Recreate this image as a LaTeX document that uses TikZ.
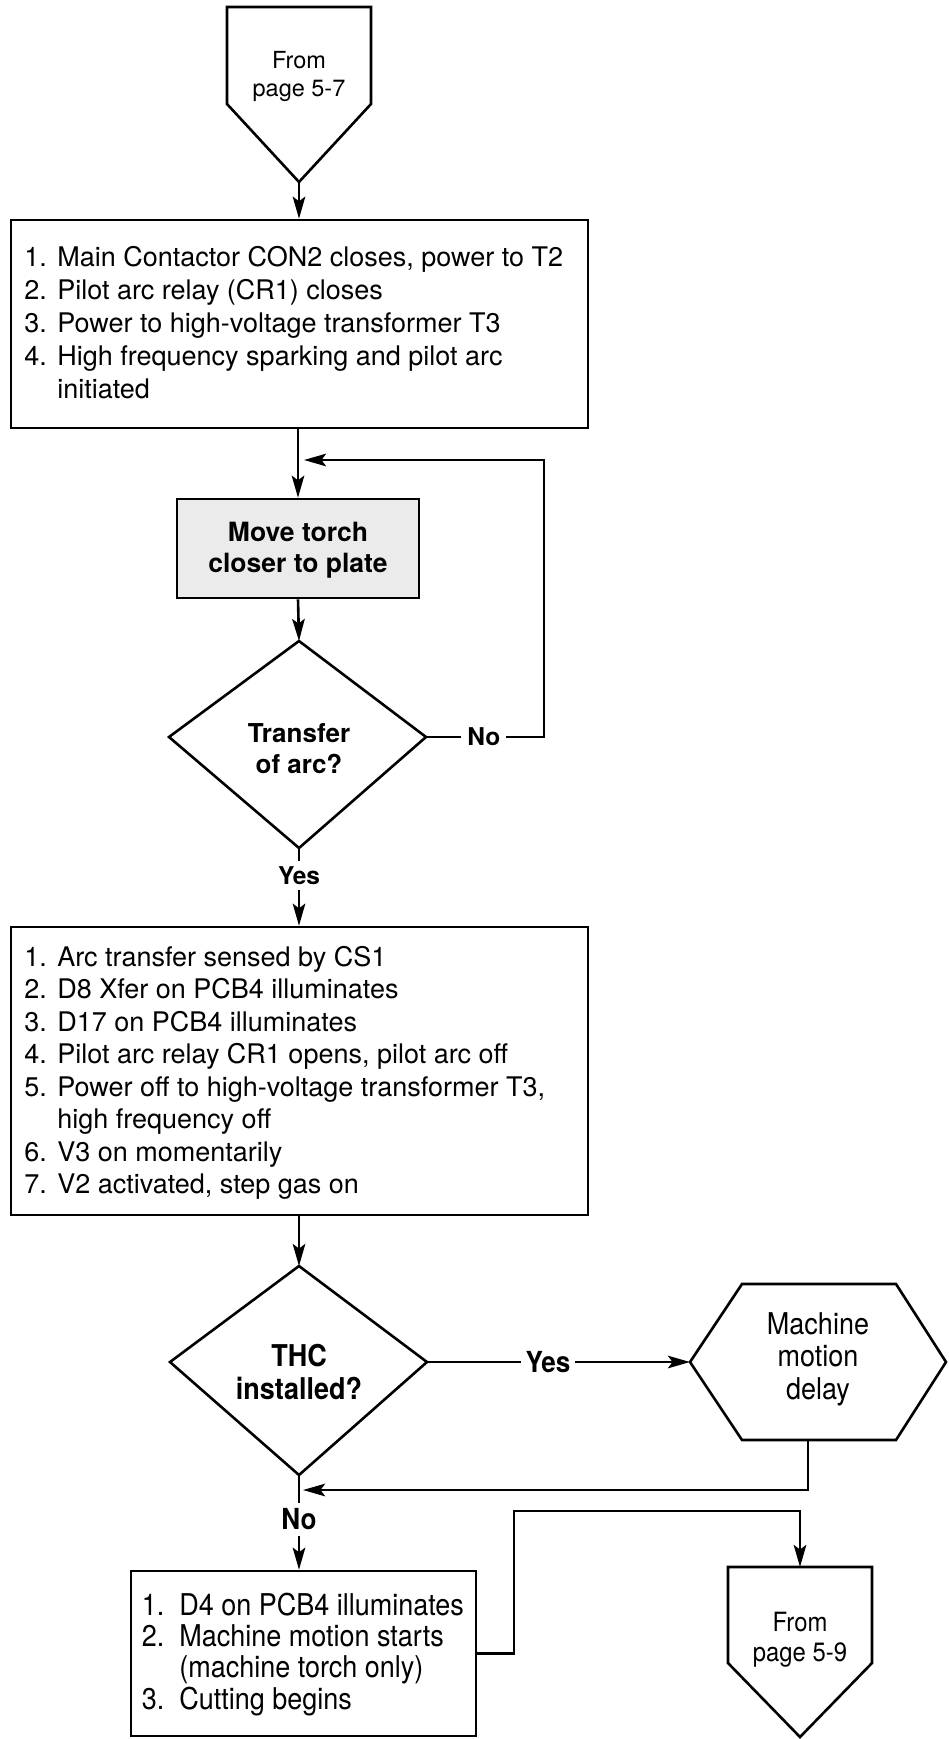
\documentclass[tikz,border=0pt]{standalone}
\usepackage{fontspec}
\setmainfont{TeX Gyre Heros}
\newfontfamily\condfont{TeX Gyre Heros}[FakeStretch=0.9]
\usetikzlibrary{arrows.meta}
\begin{document}
\begin{tikzpicture}[x=1pt,y=-1pt,
  line width=2.6pt, line join=miter,
  >={Stealth[length=22pt,width=12.5pt,inset=4.5pt]},
  box/.style={draw, rectangle, inner sep=0pt},
  txt/.style={inner sep=0pt, align=center},
  lst/.style={anchor=base west, inner sep=0pt},
  lbl/.style={fill=white, inner xsep=6pt, inner ysep=5pt,
              font=\bfseries\fontsize{24.5}{29}\selectfont},
  lblc/.style={fill=white, inner xsep=5pt, inner ysep=6pt,
              font=\condfont\bfseries\fontsize{29}{33}\selectfont}]
\useasboundingbox (0,0) rectangle (948,1739);

% ---- entry connector: from page 5-7
\coordinate (p1tip) at (299,182);
\draw (227,7) -- (371,7) -- (371,104) -- (p1tip) -- (227,104) -- cycle;
\node[txt, font=\fontsize{23.5}{28}\selectfont] (p1) at (299,76) {From\\page 5-7};

% ---- first action box
\node[box, minimum width=577pt, minimum height=208pt] (b1) at (299.5,324) {};
\node[lst, font=\fontsize{27}{33}\selectfont] (t1) at (23,266) {%
\begin{tabular}[t]{@{}l@{}l@{}}
\makebox[33pt][l]{1.} & Main Contactor CON2 closes, power to T2\\
\makebox[33pt][l]{2.} & Pilot arc relay (CR1) closes\\
\makebox[33pt][l]{3.} & Power to high-voltage transformer T3\\
\makebox[33pt][l]{4.} & High frequency sparking and pilot arc\\
 & initiated
\end{tabular}};

% ---- move torch box
\node[box, fill=black!8, minimum width=242pt, minimum height=99pt] (mv) at (298,548.5) {};
\node[txt, font=\bfseries\fontsize{26.5}{31}\selectfont] (mvt) at (298,550) {Move torch\\closer to plate};

% ---- decision: transfer of arc
\coordinate (d1n) at (299,641);
\coordinate (d1e) at (426,737);
\coordinate (d1s) at (299,848);
\coordinate (d1w) at (169,737);
\draw (d1n) -- (d1e) -- (d1s) -- (d1w) -- cycle;
\node[txt, font=\bfseries\fontsize{26}{31}\selectfont] (d1) at (299,749) {Transfer\\of arc?};

% ---- second action box
\node[box, minimum width=577pt, minimum height=288pt] (b2) at (299.5,1071) {};
\node[lst, font=\fontsize{27}{32.5}\selectfont] (t2) at (23,966) {%
\begin{tabular}[t]{@{}l@{}l@{}}
\makebox[33pt][l]{1.} & Arc transfer sensed by CS1\\
\makebox[33pt][l]{2.} & D8 Xfer on PCB4 illuminates\\
\makebox[33pt][l]{3.} & D17 on PCB4 illuminates\\
\makebox[33pt][l]{4.} & Pilot arc relay CR1 opens, pilot arc off\\
\makebox[33pt][l]{5.} & Power off to high-voltage transformer T3,\\
 & high frequency off\\
\makebox[33pt][l]{6.} & V3 on momentarily\\
\makebox[33pt][l]{7.} & V2 activated, step gas on
\end{tabular}};

% ---- decision: THC installed
\coordinate (d2n) at (299,1266);
\coordinate (d2e) at (427,1362);
\coordinate (d2s) at (299,1475);
\coordinate (d2w) at (170,1362);
\draw (d2n) -- (d2e) -- (d2s) -- (d2w) -- cycle;
\node[txt, font=\condfont\bfseries\fontsize{30}{33}\selectfont] (d2) at (299,1372) {THC\\installed?};

% ---- machine motion delay
\coordinate (hxw) at (690,1362);
\coordinate (hxe) at (946,1362);
\coordinate (hxdrop) at (808,1440);
\draw (hxw) -- (742,1284) -- (896,1284) -- (hxe) -- (896,1440) -- (742,1440) -- cycle;
\node[txt, font=\condfont\fontsize{30}{32.5}\selectfont] (hx) at (818,1359) {Machine\\motion\\delay};

% ---- third action box
\node[box, minimum width=345pt, minimum height=165pt] (b3) at (303.5,1653.5) {};
\node[lst, font=\condfont\fontsize{30}{31}\selectfont] (t3) at (140.5,1615.5) {%
\begin{tabular}[t]{@{}l@{}l@{}}
\makebox[37.5pt][l]{1.} & D4 on PCB4 illuminates\\
\makebox[37.5pt][l]{2.} & Machine motion starts\\
 & (machine torch only)\\
\makebox[37.5pt][l]{3.} & Cutting begins
\end{tabular}};

% ---- exit connector: from page 5-9
\coordinate (p2top) at (800,1567);
\draw (728,1567) -- (872,1567) -- (872,1663) -- (800,1737) -- (728,1663) -- cycle;
\node[txt, font=\condfont\fontsize{26.5}{30}\selectfont] (p2) at (800,1640) {From\\page 5-9};

% ---- connectors
\coordinate (fbc) at (544,460);
\coordinate (loopend) at (304,460);
\coordinate (mergept) at (303,1490);
\coordinate (jog) at (514,1511);

\draw[->] (p1tip) -- (b1.north -| p1tip);
\draw[->] (b1.south -| mv.north) -- (mv.north);
\draw[->] (mv.south) -- (d1n);
\draw[->] (d1e) -- node[lbl, pos=.49] {No} (d1e -| fbc) -- (fbc) -- (loopend);
\draw[->] (d1s) -- node[lbl, pos=.354] {Yes} (d1s |- b2.north);
\draw[->] (d1s |- b2.south) -- (d2n);
\draw[->] (d2e) -- node[lblc, pos=.46] {Yes} (hxw);
\draw[->] (hxdrop) -- (hxdrop |- mergept) -- (mergept);
\draw[->] (d2s) -- node[lblc, pos=.469] {No} (d2s |- b3.north);
\draw[->] (b3.east) -| (jog) -| (p2top);
\end{tikzpicture}
\end{document}
